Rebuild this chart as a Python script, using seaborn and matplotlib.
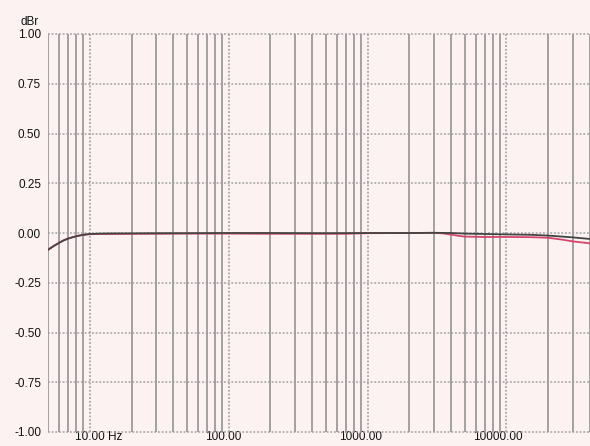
import numpy as np
import pandas as pd
import matplotlib
matplotlib.use("Agg")
import matplotlib.pyplot as plt
import matplotlib.transforms as mtransforms
from matplotlib.ticker import FixedLocator, NullFormatter
import seaborn as sns

# Frequency response sweep, two channels (Hz, dBr)
freq_a = [5, 5.5, 6, 6.5, 7, 8, 9, 10, 12, 15, 20, 30, 50, 100, 200, 500,
          1000, 2000, 3000, 4000, 5000, 7000, 10000, 15000, 20000, 30000, 40000]
level_a = [-0.085, -0.066, -0.050, -0.037, -0.028, -0.016, -0.009, -0.005, -0.003,
           -0.002, -0.002, -0.001, -0.001, 0.000, 0.000, -0.001,
           0.000, 0.000, 0.001, 0.000, -0.003, -0.005, -0.007, -0.009, -0.013, -0.022, -0.030]

freq_b = [5, 5.5, 6, 6.5, 7, 8, 9, 10, 12, 15, 20, 30, 50, 100, 200, 500,
          700, 1000, 2000, 3000, 3500, 4000, 4500, 5000, 7000, 10000, 15000,
          20000, 25000, 30000, 40000]
level_b = [-0.083, -0.064, -0.049, -0.036, -0.027, -0.016, -0.009, -0.006, -0.005,
           -0.005, -0.004, -0.004, -0.003, -0.003, -0.004, -0.004,
           -0.004, -0.001, 0.000, 0.001, -0.002, -0.008, -0.014, -0.018, -0.020, -0.020, -0.021,
           -0.024, -0.033, -0.042, -0.052]

y_ticks = [-1.00, -0.75, -0.50, -0.25, 0.00, 0.25, 0.50, 0.75, 1.00]
x_major = [10, 100, 1000, 10000]
x_major_labels = ["10.00 Hz", "100.00", "1000.00", "10000.00"]

df = pd.concat([
    pd.DataFrame({"freq": freq_a, "dBr": level_a, "ch": "A"}),
    pd.DataFrame({"freq": freq_b, "dBr": level_b, "ch": "B"}),
])

sns.set_theme(style="white")
plt.rcParams["font.family"] = ["Liberation Sans", "DejaVu Sans"]

bg = "#fdf2f2"
fig = plt.figure(figsize=(5.90, 4.46), dpi=100, facecolor=bg)
ax = fig.add_axes([48 / 590, 14 / 446, 542 / 590, 398 / 446])
ax.set_facecolor(bg)

ax.set_xscale("log")
ax.set_xlim(5, 40000)
ax.set_ylim(-1.0, 1.0)

# grid: solid lines at in-decade steps, dotted lines at decades and level steps
minor = [m * 10 ** e for e in range(0, 5) for m in range(2, 10)]
minor = [v for v in minor if 5 <= v <= 40000]
for v in minor:
    ax.axvline(v, color="#8a8a8a", lw=1.1, zorder=1)
for v in x_major:
    ax.axvline(v, color="#9a9a9a", lw=1.1, ls=(0, (1.2, 1.2)), zorder=1)
for v in y_ticks:
    ax.axhline(v, color="#a0a0a0", lw=1.1, ls=(0, (1.2, 1.2)), zorder=1, clip_on=False)

sns.lineplot(data=df, x="freq", y="dBr", hue="ch", palette={"A": "#444444", "B": "#d4466a"},
             hue_order=["B", "A"], lw=1.3, legend=False, ax=ax, zorder=3, estimator=None)

ax.xaxis.set_major_locator(FixedLocator(x_major))
ax.xaxis.set_minor_locator(FixedLocator([]))
ax.xaxis.set_minor_formatter(NullFormatter())
ax.set_xticklabels(x_major_labels)
ax.set_yticks(y_ticks)
ax.set_yticklabels([f"{v:.2f}" for v in y_ticks])
ax.tick_params(axis="both", length=0, labelsize=8.5, colors="#111111")
ax.tick_params(axis="y", pad=5)
ax.tick_params(axis="x", pad=-1)
for s in ax.spines.values():
    s.set_visible(False)
ax.set_xlabel("")
ax.set_ylabel("")

# nudge the decade labels so the numbers sit under their lines
offsets = [9, -5, -7, -9]
for lab, dx in zip(ax.get_xticklabels(), offsets):
    lab.set_transform(lab.get_transform() + mtransforms.ScaledTranslation(dx / 100, 0, fig.dpi_scale_trans))

fig.text(30 / 590, 1 - 22 / 446, "dBr", ha="center", va="center", fontsize=8.5, color="#111111")

fig.savefig("out.png", dpi=100, facecolor=bg)
